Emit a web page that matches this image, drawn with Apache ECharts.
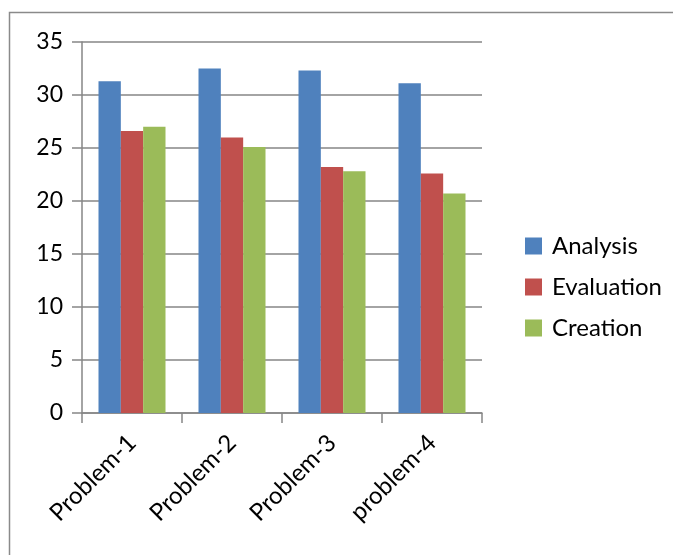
<!DOCTYPE html>
<html>
<head>
<meta charset="utf-8">
<script src="https://cdn.jsdelivr.net/npm/echarts@6/dist/echarts.min.js"></script>
<style>
html,body{margin:0;padding:0;background:#fff;}
#chart{width:673px;height:555px;}
</style>
</head>
<body>
<div id="chart"></div>
<script>
var categories = ['Problem-1', 'Problem-2', 'Problem-3', 'problem-4'];
var analysis = [31.3, 32.5, 32.3, 31.1];
var evaluation = [26.6, 26.0, 23.2, 22.6];
var creation = [27.0, 25.1, 22.8, 20.7];
var yTicks = [0, 5, 10, 15, 20, 25, 30, 35];

var chart = echarts.init(document.getElementById('chart'), null, {renderer: 'canvas'});
var font = 'Lato, "Open Sans", sans-serif';
chart.setOption({
  animation: false,
  backgroundColor: '#fff',
  graphic: [{
    type: 'rect',
    shape: {x: 9.5, y: 12.5, width: 700, height: 600},
    style: {fill: 'none', stroke: '#8a8a8a', lineWidth: 1.5},
    silent: true, z: 0
  }],
  grid: {left: 82, top: 42, width: 400, height: 371, containLabel: false},
  legend: {
    orient: 'vertical',
    left: 520, top: 229,
    itemWidth: 17, itemHeight: 17,
    itemGap: 17,
    icon: 'rect',
    textStyle: {fontFamily: font, fontSize: 24, color: '#000', padding: [0, 0, 0, 5]},
    data: ['Analysis', 'Evaluation', 'Creation']
  },
  xAxis: {
    type: 'category',
    data: categories,
    boundaryGap: true,
    axisLine: {lineStyle: {color: '#868686', width: 1.5}},
    axisTick: {show: true, length: 10, lineStyle: {color: '#868686', width: 1.5}},
    axisLabel: {rotate: 45, margin: 26, fontFamily: font, fontSize: 24, color: '#000', interval: 0}
  },
  yAxis: {
    type: 'value',
    min: 0, max: 35, interval: 5,
    axisLine: {show: true, lineStyle: {color: '#868686', width: 1.5}},
    axisTick: {show: true, length: 10, lineStyle: {color: '#868686', width: 1.5}},
    splitLine: {show: true, lineStyle: {color: '#868686', width: 1.5}},
    axisLabel: {margin: 19, fontFamily: font, fontSize: 23, color: '#000',
      formatter: function (v) { return yTicks.indexOf(v) >= 0 ? String(v) : ''; }}
  },
  series: [
    {name: 'Analysis', type: 'bar', data: analysis, itemStyle: {color: '#4F81BD'}, barGap: '0%', barCategoryGap: '33%'},
    {name: 'Evaluation', type: 'bar', data: evaluation, itemStyle: {color: '#C0504D'}, barGap: '0%', barCategoryGap: '33%'},
    {name: 'Creation', type: 'bar', data: creation, itemStyle: {color: '#9BBB59'}, barGap: '0%', barCategoryGap: '33%'}
  ]
});
</script>
</body>
</html>
